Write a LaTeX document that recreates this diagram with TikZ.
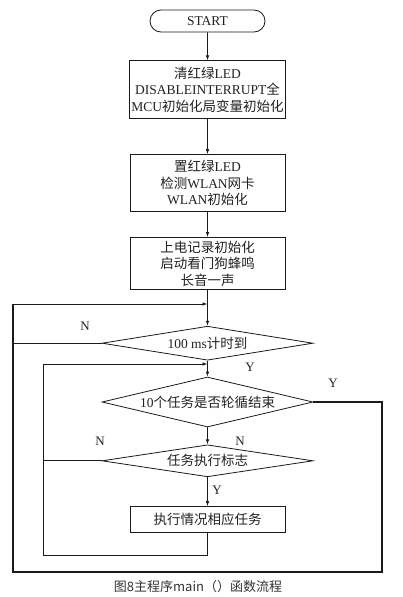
\documentclass[tikz,border=0pt]{standalone}
\usepackage{fontspec}
\setmainfont{Liberation Serif}
\newfontfamily\cjk{Noto Sans CJK SC}
\definecolor{lineDark}{HTML}{1A1A1A}
\definecolor{textDark}{HTML}{222222}
\definecolor{captionGray}{HTML}{333333}
\usetikzlibrary{positioning, shapes.geometric, shapes.misc, arrows.meta}

\begin{document}
\begin{tikzpicture}[x=1pt, y=-1pt,
    font=\fontsize{13.5}{16.5}\selectfont, text=textDark,
    procbox/.style={draw=lineDark, line width=0.8pt, minimum width=155pt, align=center, inner sep=2pt},
    decide/.style={draw=lineDark, line width=0.8pt, diamond, aspect=6, inner sep=0pt, minimum width=211pt},
    flow/.style={draw=lineDark, line width=0.8pt, -{Latex[length=5pt,width=3.5pt]}},
    wire/.style={draw=lineDark, line width=0.8pt},
    yn/.style={font=\fontsize{13}{13}\selectfont}]
  \useasboundingbox (0,0) rectangle (402,597);

  % main column
  \node[draw=lineDark, line width=0.8pt, rounded rectangle, minimum width=115pt, minimum height=22pt, inner sep=0pt]
    (start) at (207.5,21) {START};
  \node[procbox, minimum height=58pt, below=28pt of start] (init) {%
    {\cjk 清红绿}LED\\DISABLEINTERRUPT{\cjk 全}\\MCU{\cjk 初始化局变量初始化}};
  \node[procbox, minimum height=57pt, below=35pt of init] (wlan) {%
    {\cjk 置红绿}LED\\{\cjk 检测}WLAN{\cjk 网卡}\\WLAN{\cjk 初始化}};
  \node[procbox, minimum height=52pt, below=25pt of wlan] (power) {%
    {\cjk 上电记录初始化}\\{\cjk 启动看门狗蜂鸣}\\{\cjk 长音一声}};
  \node[decide, minimum height=34pt, below=36pt of power] (tick) {100 ms{\cjk 计时到}};
  \node[decide, minimum height=50pt, below=16pt of tick] (round) {10{\cjk 个任务是否轮循结束}};
  \node[decide, minimum height=32pt, below=17pt of round] (flag) {{\cjk 任务执行标志}};
  \node[procbox, minimum height=26pt, below=29pt of flag] (task) {{\cjk 执行情况相应任务}};

  % loop corners
  \coordinate (outerL) at (13,304);
  \coordinate (innerL) at (43,364);
  \coordinate (outerR) at (382,572);
  \coordinate (innerB) at (43,555);

  \draw[flow] (start) -- (init);
  \draw[flow] (init) -- (wlan);
  \draw[flow] (wlan) -- (power);
  \draw[flow] (power) -- (tick);
  \draw[flow] (tick) -- (round);
  \draw[flow] (round) -- (flag);
  \draw[flow] (flag) -- (task);

  % outer loop
  \draw[wire] (tick.west) -| (outerL);
  \draw[wire, line width=1.2pt] (round.east) -| (outerR) -| (outerL);
  \draw[flow] (outerL) -- (tick.north |- outerL);

  % inner loop
  \draw[wire] (flag.west) -- (flag.west -| innerL);
  \draw[wire] (task.south) |- (innerB) -- (innerL);
  \draw[flow] (innerL) -- (round.north |- innerL);

  % branch labels
  \node[yn] (nTick) at (85,326) {N};
  \node[yn] (yTick) at (250,367) {Y};
  \node[yn] (yRound) at (333,383) {Y};
  \node[yn] (nRound) at (240,441) {N};
  \node[yn] (nFlag) at (100,441) {N};
  \node[yn] (yFlag) at (217,490) {Y};

  \node[font=\cjk\fontsize{13}{13}\selectfont, text=captionGray] (caption) at (198,587) {图8主程序main（）函数流程};
\end{tikzpicture}
\end{document}
